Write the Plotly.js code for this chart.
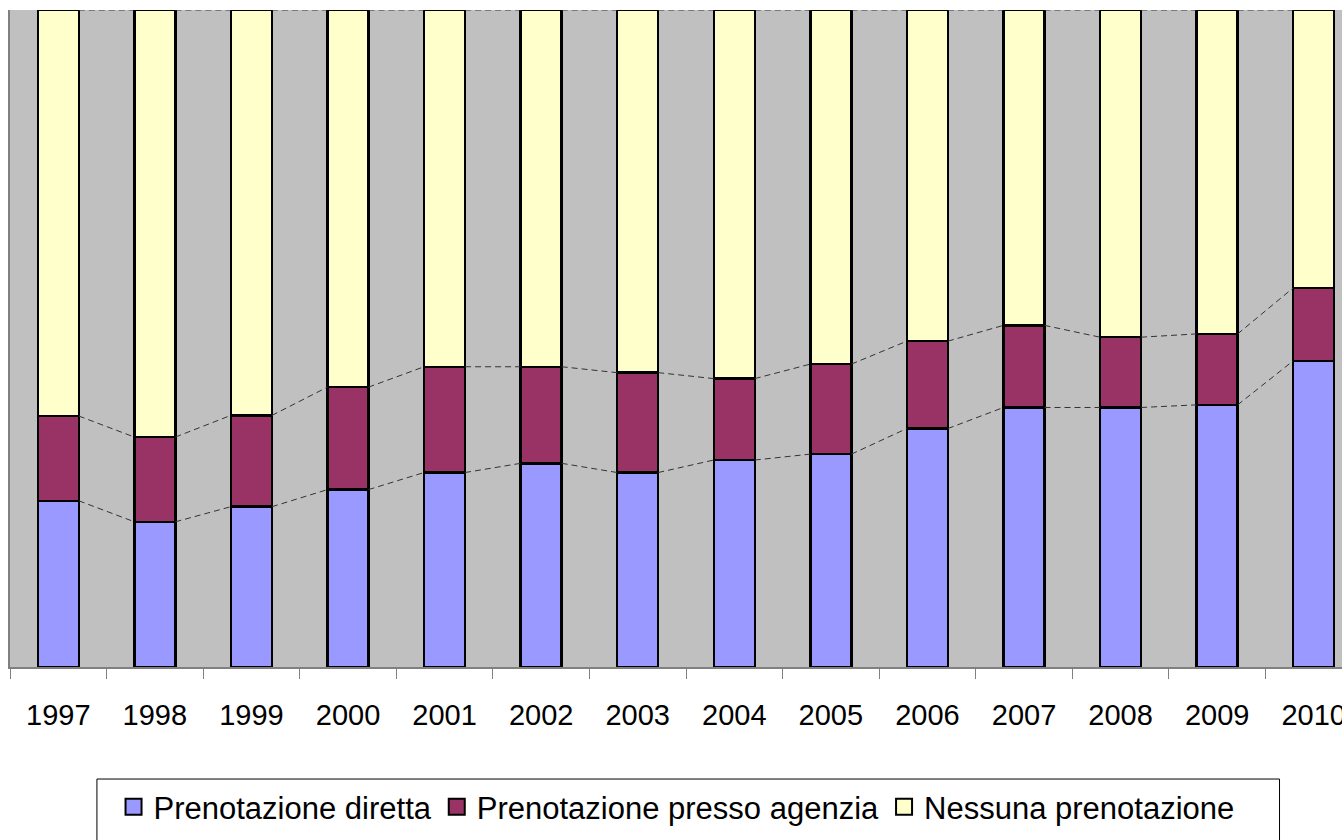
<!DOCTYPE html>
<html>
<head>
<meta charset="utf-8">
<script src="https://cdn.plot.ly/plotly-3.0.1.min.js"></script>
<style>
html,body{margin:0;padding:0;overflow:hidden;background:#fff;}
#chart{width:1362px;height:840px;}
</style>
</head>
<body>
<div id="chart"></div>
<script>
const years = ['1997','1998','1999','2000','2001','2002','2003','2004','2005','2006','2007','2008','2009','2010'];
const diretta = [25.3, 22.1, 24.4, 27.0, 29.6, 31.0, 29.6, 31.5, 32.4, 36.3, 39.5, 39.5, 39.9, 46.6];
const agenzia = [12.9, 12.9, 13.9, 15.6, 16.1, 14.7, 15.2, 12.4, 13.7, 13.3, 12.5, 10.7, 10.8, 11.1];
const nessuna = [61.8, 65.0, 61.7, 57.4, 54.3, 54.3, 55.2, 56.1, 53.9, 50.4, 48.0, 49.8, 49.3, 42.3];
const seriesNames = ['Prenotazione diretta', 'Prenotazione presso agenzia', 'Nessuna prenotazione'];
const colors = ['#9999FF', '#993366', '#FFFFCC'];

const idx = years.map((_, i) => i);
const bargap = 0.575;
const hw = (1 - bargap) / 2;
const font = 'Liberation Sans, Arial, sans-serif';

const series = [diretta, agenzia, nessuna];
const traces = [];
series.forEach((vals, s) => {
  traces.push({
    type: 'bar', x: idx, y: vals, name: seriesNames[s], showlegend: false,
    legendgroup: 'g' + s,
    marker: {color: colors[s], line: {color: '#000', width: 2.5}},
    hoverinfo: 'x+y'
  });
});

// cumulative tops for series lines
const cum = [];
let run = idx.map(() => 0);
series.forEach(vals => {
  run = run.map((r, i) => r + vals[i]);
  cum.push(run.slice());
});
cum.forEach(c => {
  const lx = [], ly = [];
  for (let i = 0; i < idx.length - 1; i++) {
    lx.push(idx[i] + hw, idx[i + 1] - hw, null);
    ly.push(c[i], c[i + 1], null);
  }
  traces.push({
    type: 'scatter', mode: 'lines', x: lx, y: ly, showlegend: false,
    hoverinfo: 'skip', cliponaxis: false,
    line: {color: '#333', width: 1, dash: '6px,4px'}
  });
});
// legend entries
seriesNames.forEach((n, s) => {
  traces.push({
    type: 'scatter', mode: 'markers', x: [null], y: [null], name: n,
    legendgroup: 'g' + s,
    marker: {symbol: 'square', size: 16, color: colors[s], line: {color: '#000', width: 2}}
  });
});

const boundaries = [];
for (let i = 0; i <= years.length; i++) boundaries.push(i - 0.5);

const layout = {
  width: 1362, height: 840,
  margin: {l: 10, r: 0, t: 10, b: 173},
  paper_bgcolor: '#fff', plot_bgcolor: '#C0C0C0',
  barmode: 'stack', bargap: bargap,
  font: {family: font, color: '#000', size: 30},
  showlegend: true,
  legend: {
    orientation: 'h', x: 0.493, xanchor: 'center', y: -0.172, yanchor: 'top',
    font: {family: font, size: 31, color: '#000'},
    bgcolor: 'rgba(0,0,0,0)', borderwidth: 0, itemsizing: 'trace',
    traceorder: 'normal'
  },
  xaxis: {
    type: 'linear', range: [-0.5, years.length - 0.5],
    tickmode: 'array', tickvals: idx, ticktext: years,
    ticks: 'outside', ticklen: 21, tickcolor: 'rgba(0,0,0,0)',
    tickfont: {family: font, size: 29, color: '#000'},
    showgrid: false, zeroline: false,
    showline: true, linecolor: '#808080', linewidth: 2,
    minor: {tickmode: 'array', tickvals: boundaries, ticks: 'outside', ticklen: 10, tickcolor: '#808080', tickwidth: 1, showgrid: false}
  },
  yaxis: {
    range: [0, 100], showticklabels: false, ticks: '', showgrid: false, zeroline: false,
    showline: true, linecolor: '#808080', linewidth: 2
  },
  shapes: [{
    type: 'rect', xref: 'paper', yref: 'paper',
    x0: 0.0643, x1: 0.939, y0: -0.1705, y1: -0.29,
    line: {color: '#000', width: 1}, fillcolor: 'rgba(0,0,0,0)'
  }]
};

Plotly.newPlot('chart', traces, layout, {displayModeBar: false, staticPlot: true});
</script>
</body>
</html>
